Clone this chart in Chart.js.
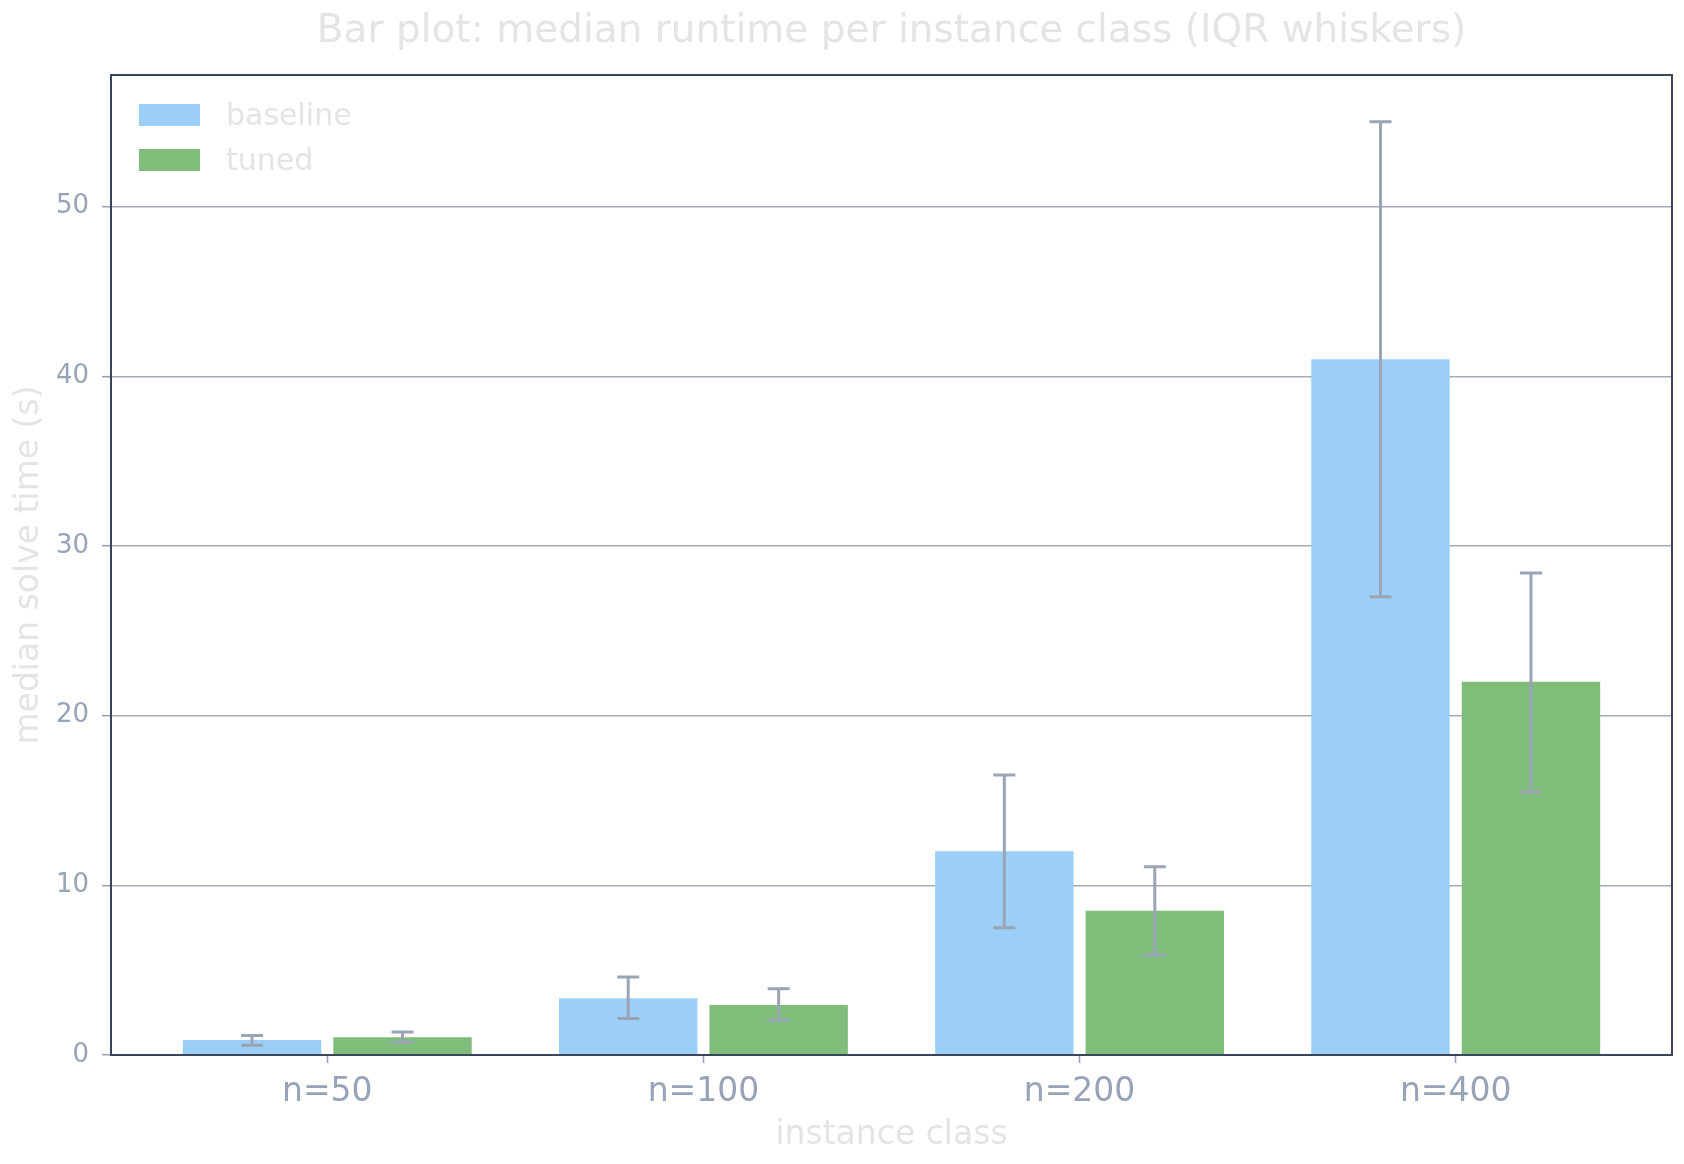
<!DOCTYPE html>
<html lang="en">
<head>
    <meta charset="UTF-8">
    <title>Median runtime per instance class</title>
    <script src="https://cdn.jsdelivr.net/npm/chart.js"></script>
    <style>
        html, body { margin: 0; padding: 0; background: #fff; }
        #wrap { width: 1684px; height: 1164px; }
    </style>
</head>
<body>
    <div id="wrap"><canvas id="chart"></canvas></div>

    <script>
        // data
        const categories = ['n=50', 'n=100', 'n=200', 'n=400'];
        const baselineMedian = [0.88, 3.35, 12.0, 41.0];
        const baselineLow = [0.57, 2.15, 7.5, 27.0];
        const baselineHigh = [1.15, 4.6, 16.5, 55.0];
        const tunedMedian = [1.05, 2.95, 8.5, 22.0];
        const tunedLow = [0.75, 2.05, 5.9, 15.5];
        const tunedHigh = [1.35, 3.9, 11.1, 28.4];
        const yTicks = [0, 10, 20, 30, 40, 50];

        const FONT = 'DejaVu Sans';
        const tickColor = '#97a3b6';
        const lightText = '#e4e4e4';
        const frameColor = '#3a4658';
        const gridColor = '#a4acb7';
        const whiskerColor = '#9aa4b5';

        // bars sit either side of the category position
        function grouped(values, shift) {
            return values.map((v, i) => ({ x: i + shift, y: v }));
        }

        // IQR whiskers, drawn with the y scale
        const whiskers = {
            id: 'whiskers',
            afterDatasetsDraw(chart) {
                const ctx = chart.ctx;
                const y = chart.scales.y;
                ctx.save();
                ctx.strokeStyle = whiskerColor;
                ctx.lineWidth = 3;
                chart.data.datasets.forEach((ds, d) => {
                    const meta = chart.getDatasetMeta(d);
                    meta.data.forEach((bar, i) => {
                        const top = y.getPixelForValue(ds.errHigh[i]);
                        const bot = y.getPixelForValue(ds.errLow[i]);
                        ctx.beginPath();
                        ctx.moveTo(bar.x, top);
                        ctx.lineTo(bar.x, bot);
                        ctx.moveTo(bar.x - 11, top);
                        ctx.lineTo(bar.x + 11, top);
                        ctx.moveTo(bar.x - 11, bot);
                        ctx.lineTo(bar.x + 11, bot);
                        ctx.stroke();
                    });
                });
                ctx.restore();
            }
        };

        // frame, title and the legend inside the axes
        const decor = {
            id: 'decor',
            afterDraw(chart) {
                const ctx = chart.ctx;
                const a = chart.chartArea;
                ctx.save();
                ctx.strokeStyle = frameColor;
                ctx.lineWidth = 2;
                ctx.strokeRect(a.left, a.top, a.right - a.left, a.bottom - a.top);

                ctx.fillStyle = lightText;
                ctx.font = '39px "' + FONT + '"';
                ctx.textAlign = 'center';
                ctx.textBaseline = 'middle';
                ctx.fillText('Bar plot: median runtime per instance class (IQR whiskers)', (a.left + a.right) / 2, 32);

                ctx.font = '30px "' + FONT + '"';
                ctx.textAlign = 'left';
                chart.data.datasets.forEach((ds, d) => {
                    const top = a.top + 29 + d * 45;
                    ctx.fillStyle = ds.backgroundColor;
                    ctx.fillRect(a.left + 28, top, 61, 22);
                    ctx.fillStyle = lightText;
                    ctx.fillText(ds.label, a.left + 115, top + 13);
                });
                ctx.restore();
            }
        };

        new Chart(document.getElementById('chart'), {
            type: 'bar',
            data: {
                datasets: [
                    {
                        label: 'baseline',
                        data: grouped(baselineMedian, -0.2),
                        errLow: baselineLow,
                        errHigh: baselineHigh,
                        backgroundColor: '#9bcff5',
                        grouped: false,
                        categoryPercentage: 1,
                        barPercentage: 0.92
                    },
                    {
                        label: 'tuned',
                        data: grouped(tunedMedian, 0.2),
                        errLow: tunedLow,
                        errHigh: tunedHigh,
                        backgroundColor: '#80bd7a',
                        grouped: false,
                        categoryPercentage: 1,
                        barPercentage: 0.92
                    }
                ]
            },
            options: {
                responsive: true,
                maintainAspectRatio: false,
                animation: false,
                layout: { padding: { top: 75, right: 12, left: 0, bottom: 0 } },
                plugins: {
                    legend: { display: false },
                    title: { display: false },
                    tooltip: { enabled: false }
                },
                scales: {
                    x: {
                        type: 'linear',
                        offset: false,
                        min: -0.575,
                        max: 3.575,
                        afterBuildTicks: (scale) => {
                            scale.ticks = categories.map((c, i) => ({ value: i }));
                        },
                        afterFit: (scale) => { scale.height = 109; },
                        ticks: {
                            color: tickColor,
                            font: { family: FONT, size: 33 },
                            padding: 10,
                            callback: (v) => categories[v]
                        },
                        grid: {
                            offset: false,
                            drawOnChartArea: false,
                            tickLength: 8,
                            tickColor: tickColor,
                            tickWidth: 1.6
                        },
                        border: { color: frameColor, width: 2 },
                        title: {
                            display: true,
                            text: 'instance class',
                            color: lightText,
                            font: { family: FONT, size: 33 },
                            padding: { top: 0, bottom: 9 }
                        }
                    },
                    y: {
                        min: 0,
                        max: 57.75,
                        afterBuildTicks: (scale) => {
                            scale.ticks = yTicks.map(v => ({ value: v }));
                        },
                        afterFit: (scale) => { scale.width = 111; },
                        ticks: {
                            color: tickColor,
                            font: { family: FONT, size: 26 },
                            padding: 13
                        },
                        grid: {
                            color: gridColor,
                            lineWidth: 1.4,
                            tickLength: 9,
                            tickColor: tickColor,
                            tickWidth: 1.6
                        },
                        border: { color: frameColor, width: 2 },
                        title: {
                            display: true,
                            text: 'median solve time (s)',
                            color: lightText,
                            font: { family: FONT, size: 33 },
                            padding: { top: 10, bottom: 0 }
                        }
                    }
                }
            },
            plugins: [whiskers, decor]
        });
    </script>
</body>
</html>
